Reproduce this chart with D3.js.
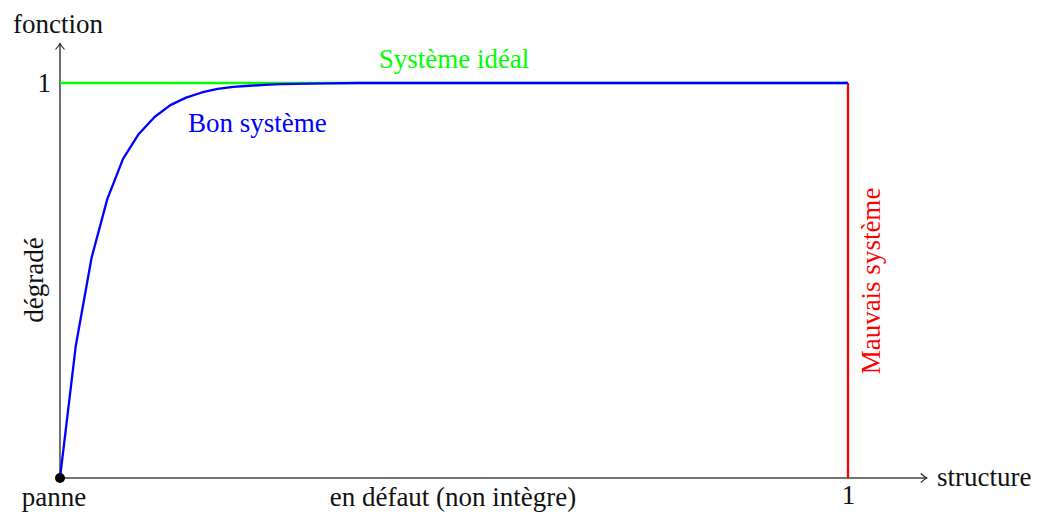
<!DOCTYPE html>
<html>
<head>
<meta charset="utf-8">
<script src="https://cdn.jsdelivr.net/npm/d3@7"></script>
<style>
  body { margin: 0; background: #fff; }
</style>
</head>
<body>
<svg id="chart" width="1048" height="513"></svg>
<script>
// Bon système curve
const structureX = [0, 0.02, 0.04, 0.06, 0.08, 0.10, 0.12, 0.14, 0.16, 0.18, 0.20, 0.22, 0.24, 0.26, 0.28, 0.30, 0.34, 0.38, 1];
const fonctionY = [0, 0.334, 0.557, 0.706, 0.808, 0.871, 0.914, 0.944, 0.963, 0.976, 0.985, 0.990, 0.993, 0.995, 0.997, 0.998, 0.999, 1, 1];

// ideal and bad systems
const idealX = [0, 1];
const idealY = [1, 1];
const mauvaisX = [1, 1];
const mauvaisY = [0, 1];

const tickLabels = ["1"];

const FONT = "'Liberation Serif'";
const FS = 27;

const svg = d3.select("#chart");

const x = d3.scaleLinear().domain([0, 1]).range([60, 848]);
const y = d3.scaleLinear().domain([0, 1]).range([478, 83]);

// arrow marker like tikz "->"
svg.append("defs").append("marker")
  .attr("id", "arrow")
  .attr("viewBox", "-10 -6 12 12")
  .attr("refX", 0).attr("refY", 0)
  .attr("markerWidth", 12).attr("markerHeight", 12)
  .attr("markerUnits", "userSpaceOnUse")
  .attr("orient", "auto")
  .append("path")
  .attr("d", "M-6,-4.5 Q-2,-1 0,0 Q-2,1 -6,4.5")
  .attr("fill", "none")
  .attr("stroke", "#222")
  .attr("stroke-width", 1.1);

// axes
svg.append("line")
  .attr("x1", x(0)).attr("y1", y(0))
  .attr("x2", x(1.1)).attr("y2", y(0))
  .attr("stroke", "#444").attr("stroke-width", 1.3)
  .attr("marker-end", "url(#arrow)");

svg.append("line")
  .attr("x1", x(0)).attr("y1", y(0))
  .attr("x2", x(0)).attr("y2", y(1.1))
  .attr("stroke", "#222").attr("stroke-width", 1.3)
  .attr("marker-end", "url(#arrow)");

// tick labels
const xAxis = svg.append("g")
  .attr("transform", `translate(0,${y(0)})`)
  .call(d3.axisBottom(x).tickValues([1]).tickSize(0).tickPadding(5).tickFormat((d, i) => tickLabels[i]));
const yAxis = svg.append("g")
  .attr("transform", `translate(${x(0)},0)`)
  .call(d3.axisLeft(y).tickValues([1]).tickSize(0).tickPadding(9).tickFormat((d, i) => tickLabels[i]));
[xAxis, yAxis].forEach(a => {
  a.select(".domain").remove();
  a.attr("font-family", FONT).attr("font-size", FS);
  a.selectAll("text").attr("fill", "#111");
});
xAxis.selectAll("text").attr("dy", "0.78em");

const line = d3.line().x(d => x(d[0])).y(d => y(d[1]));

// ideal system
svg.append("path")
  .datum(d3.zip(idealX, idealY))
  .attr("d", line)
  .attr("fill", "none").attr("stroke", "#00ff00").attr("stroke-width", 2.3);

// bad system
svg.append("path")
  .datum(d3.zip(mauvaisX, mauvaisY))
  .attr("d", line)
  .attr("fill", "none").attr("stroke", "#ff0000").attr("stroke-width", 2.3);

// good system
svg.append("path")
  .datum(d3.zip(structureX, fonctionY))
  .attr("d", line)
  .attr("fill", "none").attr("stroke", "#0000ff").attr("stroke-width", 2.3)
  .attr("stroke-linejoin", "round");

// origin dot
svg.append("circle")
  .attr("cx", x(0)).attr("cy", y(0)).attr("r", 5)
  .attr("fill", "#000");

// labels
function label(txt, color) {
  return svg.append("text")
    .attr("font-family", FONT)
    .attr("font-size", FS)
    .attr("fill", color)
    .text(txt);
}
label("fonction", "#111").attr("x", x(0) - 2).attr("y", 33).attr("text-anchor", "middle");
label("structure", "#111").attr("x", 937).attr("y", y(0) + 8);
label("panne", "#111").attr("x", 54).attr("y", 506).attr("text-anchor", "middle");
label("en défaut (non intègre)", "#111").attr("x", 453).attr("y", 506).attr("text-anchor", "middle");
label("dégradé", "#111").attr("transform", `translate(43,280) rotate(-90)`).attr("text-anchor", "middle");
label("Système idéal", "#00ff00").attr("x", 454).attr("y", 68).attr("text-anchor", "middle");
label("Bon système", "#0000ff").attr("x", 188).attr("y", 132);
label("Mauvais système", "#ff0000").attr("transform", `translate(880,281) rotate(-90)`).attr("text-anchor", "middle");
</script>
</body>
</html>
